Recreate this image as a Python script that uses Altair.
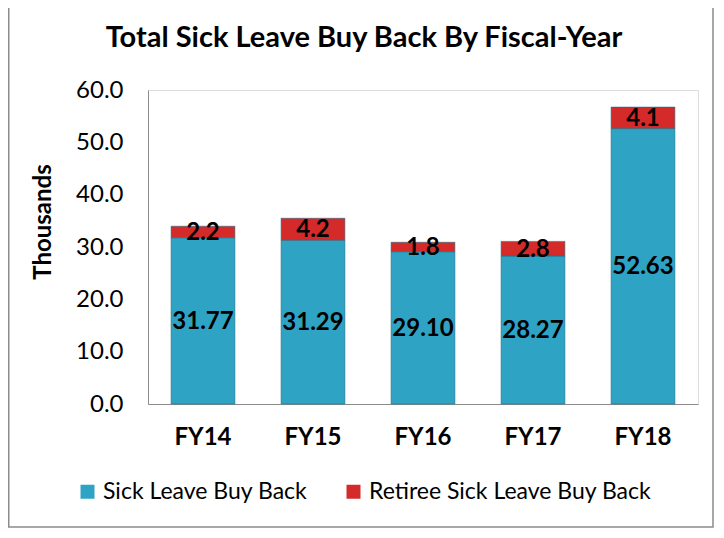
import altair as alt
import pandas as pd

years = ["FY14", "FY15", "FY16", "FY17", "FY18"]
sick = [31.77, 31.29, 29.10, 28.27, 52.63]
retiree = [2.2, 4.2, 1.8, 2.8, 4.1]
series = ["Sick Leave Buy Back", "Retiree Sick Leave Buy Back"]
sick_labels = ["31.77", "31.29", "29.10", "28.27", "52.63"]
retiree_labels = ["2.2", "4.2", "1.8", "2.8", "4.1"]
chart_title = "Total Sick Leave Buy Back By Fiscal-Year"
y_title = "Thousands"

rows = []
for i, y in enumerate(years):
    rows.append({"year": y, "series": series[0], "value": sick[i], "label": sick_labels[i], "ord": 0})
    rows.append({"year": y, "series": series[1], "value": retiree[i], "label": retiree_labels[i], "ord": 1})
df = pd.DataFrame(rows)

FONT = "Lato"

base = alt.Chart(df).transform_stack(
    stack="value", as_=["y0", "y1"], groupby=["year"], sort=[alt.SortField("ord")]
).transform_calculate(mid="(datum.y0 + datum.y1) / 2")

x = alt.X("year:N", sort=years, title=None,
          scale=alt.Scale(paddingInner=0.42, paddingOuter=0.21),
          axis=alt.Axis(labelFont=FONT, labelFontSize=24, labelFontWeight="bold",
                        labelColor="black", labelAngle=0, ticks=False,
                        domainColor="#8c8c8c", labelPadding=21))

bars = base.mark_bar(stroke="#1f6f86", strokeWidth=0.6).encode(
    x=x,
    y=alt.Y("y0:Q", title=None,
            scale=alt.Scale(domain=[0, 60]),
            axis=alt.Axis(values=[0, 10, 20, 30, 40, 50, 60], format=".1f",
                          grid=False, ticks=False, domainColor="#8c8c8c",
                          labelFont=FONT, labelFontSize=24, labelColor="black",
                          labelPadding=25)),
    y2="y1:Q",
    color=alt.Color("series:N", sort=series,
                    scale=alt.Scale(domain=series, range=["#2fa3c4", "#d52a2a"]),
                    legend=alt.Legend(title=None, orient="none", direction="horizontal",
                                      legendX=-72, legendY=390, symbolType="square",
                                      symbolSize=196, symbolStrokeWidth=0,
                                      labelFont=FONT, labelFontSize=23, labelColor="black",
                                      columnPadding=34, labelOffset=4, labelLimit=400)),
    order=alt.Order("ord:Q"),
)

texts = base.mark_text(font=FONT, fontSize=24, fontWeight="bold", color="black",
                       baseline="middle", dy=1).encode(
    x=alt.X("year:N", sort=years),
    y=alt.Y("mid:Q"),
    text="label:N",
)

title = alt.Chart(pd.DataFrame({"t": [chart_title]})).mark_text(
    font=FONT, fontSize=29, fontWeight="bold", color="black",
    baseline="alphabetic", align="center"
).encode(x=alt.value(216), y=alt.value(-43), text="t:N")

ytitle = alt.Chart(pd.DataFrame({"t": [y_title]})).mark_text(
    font=FONT, fontSize=24, fontWeight="bold", color="black",
    baseline="middle", align="center", angle=270
).encode(x=alt.value(-104), y=alt.value(132), text="t:N")

border = alt.Chart(pd.DataFrame({"a": [0]})).mark_rect(
    fill=None, stroke="#8c8c8c", strokeWidth=1.5
).encode(
    x=alt.value(-139.25), x2=alt.value(565), y=alt.value(-83), y2=alt.value(437)
)

chart = alt.layer(bars, texts, title, ytitle, border).properties(
    width=550, height=314,
    autosize=alt.AutoSizeParams(type="none"),
    padding={"left": 140, "top": 82, "right": 18, "bottom": 126},
).configure_view(stroke=None).configure(background="white")

chart.save("out.html", embed_options={"renderer": "svg", "actions": False})
